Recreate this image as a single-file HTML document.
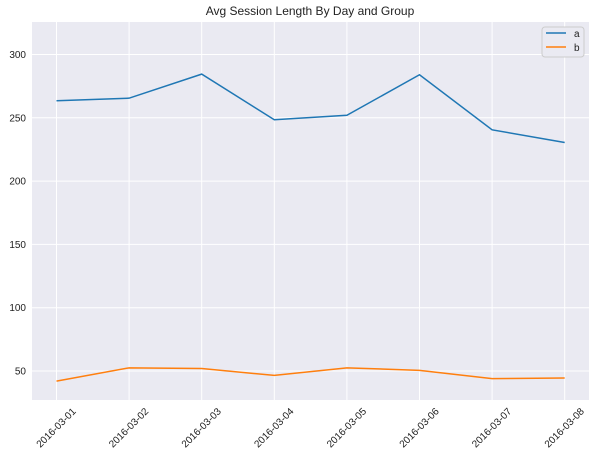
<!DOCTYPE html>
<html><head><meta charset="utf-8"><style>body{margin:0;background:#fff}svg{display:block;font-family:"Liberation Sans",sans-serif}</style></head>
<body>
<svg width="596" height="458">
<text x="310" y="15" text-anchor="middle" font-size="12" fill="#222">Avg Session Length By Day and Group</text>
<rect x="32" y="22" width="557" height="378" fill="#eaeaf2"/>
<g id="grid"></g><g id="series"></g><g id="labels"></g>
<g>
<rect x="542" y="27" width="42" height="30" rx="3" fill="#eaeaf2" stroke="#ccc"/>
<line x1="546" y1="33" x2="566" y2="33" stroke="#1f77b4" stroke-width="1.5"/>
<text x="574" y="37" font-size="10" fill="#222">a</text>
<line x1="546" y1="47" x2="566" y2="47" stroke="#ff7f0e" stroke-width="1.5"/>
<text x="574" y="51" font-size="10" fill="#222">b</text>
</g>
</svg>
<script>
const categories=["2016-03-01","2016-03-02","2016-03-03","2016-03-04","2016-03-05","2016-03-06","2016-03-07","2016-03-08"];
const seriesA=[263.5,265.5,284.5,248.5,252,284,240.5,230.5];
const seriesB=[42,52.5,52,46.5,52.5,50.5,44,44.5];
const yTicks=[50,100,150,200,250,300];
const NS="http://www.w3.org/2000/svg";
const x=i=>56.5+i*72.6;
const y=v=>54.5+(300-v)*63.3/50;
function mk(t,a,p){const e=document.createElementNS(NS,t);for(const k in a)e.setAttribute(k,a[k]);p.appendChild(e);return e;}
const g=document.getElementById('grid'),s=document.getElementById('series'),l=document.getElementById('labels');
categories.forEach((c,i)=>{
 const ln=mk('line',{x1:x(i),x2:x(i),y1:22,y2:400,stroke:'#fff','stroke-width':1},g);
 
 
 const t=mk('text',{x:0,y:0,'font-size':10,fill:'#222','text-anchor':'end',transform:`translate(${x(i)+20},${412}) rotate(-45)`},l);
 t.textContent=c;
 
 
});
yTicks.forEach(v=>{
 const ln=mk('line',{x1:32,x2:589,y1:y(v),y2:y(v),stroke:'#fff','stroke-width':1},g);
 
 
 const t=mk('text',{x:26,y:y(v)+3.5,'font-size':10,fill:'#222','text-anchor':'end'},l);
 t.textContent=v;
 
 
});
[[seriesA,'#1f77b4','line-a'],[seriesB,'#ff7f0e','line-b']].forEach(([d,c,n])=>{
 const p=mk('polyline',{points:d.map((v,i)=>x(i)+','+y(v)).join(' '),fill:'none',stroke:c,'stroke-width':1.5},s);
 
 
});
</script>
</body></html>
